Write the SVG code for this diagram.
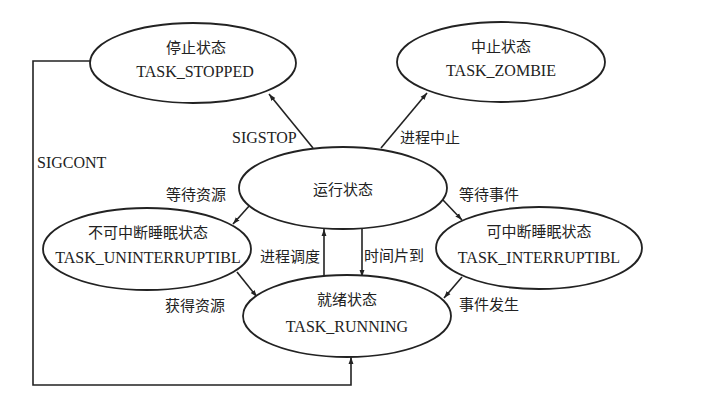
<svg xmlns="http://www.w3.org/2000/svg" width="708" height="416" viewBox="0 0 708 416">
<defs>
<marker id="arr" viewBox="0 0 10 10" refX="10" refY="5" markerWidth="7" markerHeight="7" orient="auto" markerUnits="userSpaceOnUse">
<path d="M0,1.5 L10,5 L0,8.5 z" fill="#222"/>
</marker>
</defs>
<style>
.n{fill:#fff;stroke:#222;stroke-width:1.8}
.t{font-family:"Liberation Serif","Noto Sans CJK SC",serif;font-size:15px;fill:#222;text-anchor:middle}
.l{font-family:"Liberation Serif","Noto Sans CJK SC",serif;font-size:15px;fill:#222}
.e{font-size:16px}
.c{fill:none;stroke:#222;stroke-width:1.6;marker-end:url(#arr)}
</style>
<rect width="708" height="416" fill="#fff"/>
<g id="connectors">
<path class="c" d="M313,148 L269,94"/>
<path class="c" d="M381,148 L427,93"/>
<path class="c" d="M250,205 L233,224"/>
<path class="c" d="M443,200 L462,220"/>
<path class="c" d="M237,272 L257,297"/>
<path class="c" d="M462,277 L444,298"/>
<path class="c" d="M324,277 L324,229"/>
<path class="c" d="M362,229 L362,277"/>
<path class="c" d="M90,61 L33,61 L33,385 L351,385 L351,357"/>
</g>
<g id="labels">
<text class="l e" x="232" y="143">SIGSTOP</text>
<text class="l" x="400" y="143">进程中止</text>
<text class="l e" x="37" y="168">SIGCONT</text>
<text class="l" x="166" y="200">等待资源</text>
<text class="l" x="459" y="200">等待事件</text>
<text class="l" x="260" y="262">进程调度</text>
<text class="l" x="364" y="261">时间片到</text>
<text class="l" x="165" y="311">获得资源</text>
<text class="l" x="459" y="310">事件发生</text>
</g>
<g id="stopped">
<ellipse class="n" cx="193" cy="63" rx="103" ry="40"/>
<text class="t" x="196" y="53">停止状态</text>
<text class="t e" x="195" y="77">TASK_STOPPED</text>
</g>
<g id="zombie">
<ellipse class="n" cx="501" cy="62" rx="104" ry="40"/>
<text class="t" x="501" y="52">中止状态</text>
<text class="t e" x="501" y="76">TASK_ZOMBIE</text>
</g>
<g id="running">
<ellipse class="n" cx="343" cy="188" rx="104" ry="41"/>
<text class="t" x="343" y="195">运行状态</text>
</g>
<g id="uninterruptible">
<ellipse class="n" cx="147" cy="249" rx="104" ry="41"/>
<text class="t" x="148" y="238">不可中断睡眠状态</text>
<text class="t e" x="148" y="263">TASK_UNINTERRUPTIBL</text>
</g>
<g id="interruptible">
<ellipse class="n" cx="539" cy="248" rx="103" ry="41"/>
<text class="t" x="539" y="237">可中断睡眠状态</text>
<text class="t e" x="539" y="263">TASK_INTERRUPTIBL</text>
</g>
<g id="ready">
<ellipse class="n" cx="347" cy="316" rx="104" ry="41"/>
<text class="t" x="347" y="305">就绪状态</text>
<text class="t e" x="347" y="332">TASK_RUNNING</text>
</g>
</svg>
